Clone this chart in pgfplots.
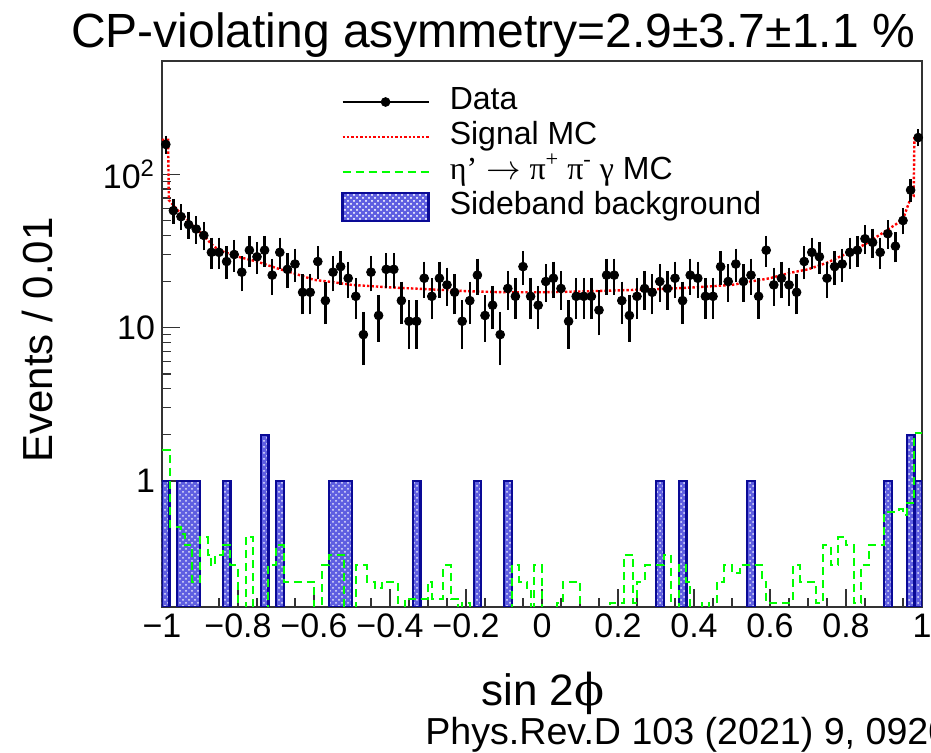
\documentclass[border=0pt]{standalone}
\usepackage{pgfplots}
\usepackage{pgfplotstable}
\pgfplotsset{compat=1.18}
\usepackage{fontspec}
\setmainfont{Liberation Sans}
\newfontfamily\grk{Liberation Serif}
\newfontfamily\phifont{DejaVu Serif}
\usetikzlibrary{patterns}

\definecolor{sbfill}{RGB}{95,95,225}
\definecolor{sbline}{RGB}{10,10,150}

% data: bin centre, events per bin
\pgfplotstableread{
x y
-0.99 157
-0.97 58
-0.95 53
-0.93 47
-0.91 44
-0.89 40
-0.87 31
-0.85 31
-0.83 27
-0.81 30
-0.79 23
-0.77 32
-0.75 29
-0.73 32
-0.71 22
-0.69 31
-0.67 24
-0.65 26
-0.63 17
-0.61 17
-0.59 27
-0.57 15
-0.55 23
-0.53 25
-0.51 21
-0.49 16
-0.47 9
-0.45 23
-0.43 12
-0.41 24
-0.39 24
-0.37 15
-0.35 11
-0.33 11
-0.31 21
-0.29 16
-0.27 21
-0.25 19
-0.23 17
-0.21 11
-0.19 15
-0.17 22
-0.15 12
-0.13 14
-0.11 9
-0.09 18
-0.07 16
-0.05 25
-0.03 16
-0.01 14
0.01 20
0.03 21
0.05 18
0.07 11
0.09 16
0.11 16
0.13 16
0.15 13
0.17 22
0.19 22
0.21 15
0.23 12
0.25 16
0.27 18
0.29 17
0.31 20
0.33 18
0.35 21
0.37 15
0.39 22
0.41 21
0.43 16
0.45 16
0.47 25
0.49 20
0.51 26
0.53 20
0.55 22
0.57 16
0.59 32
0.61 19
0.63 21
0.65 19
0.67 17
0.69 27
0.71 31
0.73 29
0.75 21
0.77 25
0.79 26
0.81 31
0.83 32
0.85 38
0.87 36
0.89 31
0.91 41
0.93 34
0.95 50
0.97 79
0.99 174
}\datatable

\pgfplotsset{sideband/.style={ybar, bar shift=0pt, draw=sbline, line width=1.1pt, fill=sbfill,
  postaction={pattern=crosshatch dots, pattern color=white!85!sbfill}}}

\begin{document}
\begin{tikzpicture}
\useasboundingbox (0,0) rectangle (465.5pt,376.5pt);
\begin{axis}[
  at={(81pt,73pt)}, anchor=south west,
  scale only axis, width=380pt, height=273pt,
  xmin=-1, xmax=1,
  ymode=log, ymin=0.15, ymax=550,
  log origin y=infty,
  axis line style={line width=1pt, black!80},
  tick style={line width=0.8pt, black!80},
  major tick length=9pt, minor tick length=4.5pt,
  tick pos=left, tick align=inside,
  xtick={-1,-0.8,-0.6,-0.4,-0.2,0,0.2,0.4,0.6,0.8,1},
  xticklabels={−1,−0.8,−0.6,−0.4,−0.2,0,0.2,0.4,0.6,0.8,1},
  minor x tick num=3,
  ytick={1,10,100},
  yticklabels={1,10,10\textsuperscript{2}},
  xticklabel style={font=\fontsize{17}{19}\selectfont},
  yticklabel style={font=\fontsize{17}{19}\selectfont},
  xlabel={sin 2{\phifont ϕ}},
  xlabel style={at={(axis description cs:0.501,-0.1575)}, anchor=center, font=\fontsize{22}{24}\selectfont},
  ylabel={Events / 0.01},
  ylabel style={at={(axis description cs:-0.164,0.489)}, anchor=center, font=\fontsize{21}{23}\selectfont},
  reverse legend,
  legend style={draw=none, fill=none, at={(axis description cs:0.2276,0.965)}, anchor=north west,
    font=\fontsize{16}{18}\selectfont, row sep=0pt,
    nodes={inner sep=1pt, text height=11.5pt, text depth=4pt},
    /tikz/every odd column/.append style={column sep=9pt}},
  legend cell align=left,
]

% sideband background: single bins of width 0.02, and two runs of three filled bins
\addplot[sideband, bar width=0.02,
  legend image code/.code={\draw[draw=sbline, line width=1.1pt, fill=sbfill,
    postaction={pattern=crosshatch dots, pattern color=white!85!sbfill}] (0pt,-7pt) rectangle (43pt,7pt);}]
  coordinates {(-0.99,1) (-0.83,1) (-0.73,2) (-0.69,1) (-0.33,1) (-0.17,1) (-0.09,1)
    (0.31,1) (0.37,1) (0.55,1) (0.91,1) (0.99,1) (0.97,2)};
\addlegendentry{Sideband background}
\addplot[sideband, bar width=0.06, forget plot]
  coordinates {(-0.93,1) (-0.53,1)};

% eta' -> pi+ pi- gamma MC (empty bins drawn at 0.01, below the axis)
\addplot[green, line width=1pt, dash pattern=on 4pt off 2.5pt, const plot,
  legend image code/.code={\draw[green, line width=1pt, dash pattern=on 4pt off 2.5pt] (0pt,0pt) -- (43pt,0pt);}]
  coordinates {(-1.00,1.6) (-0.98,0.5) (-0.95,0.45) (-0.94,0.38) (-0.92,0.22) (-0.90,0.43)
    (-0.88,0.33) (-0.87,0.28) (-0.86,0.33) (-0.84,0.38) (-0.82,0.28) (-0.80,0.01)
    (-0.78,0.43) (-0.76,0.01) (-0.72,0.28) (-0.70,0.38) (-0.68,0.22) (-0.60,0.01)
    (-0.58,0.28) (-0.56,0.33) (-0.52,0.01) (-0.49,0.28) (-0.46,0.22) (-0.44,0.20)
    (-0.42,0.22) (-0.38,0.01) (-0.36,0.17) (-0.30,0.22) (-0.29,0.17) (-0.26,0.28)
    (-0.24,0.17) (-0.22,0.01) (-0.21,0.16) (-0.19,0.01) (-0.08,0.28) (-0.06,0.22)
    (-0.04,0.19) (-0.03,0.01) (-0.02,0.28) (0.00,0.01) (0.04,0.16) (0.055,0.22)
    (0.10,0.01) (0.18,0.16) (0.215,0.33) (0.24,0.16) (0.25,0.22) (0.27,0.28)
    (0.32,0.33) (0.34,0.01) (0.36,0.28) (0.38,0.22) (0.39,0.01) (0.42,0.16)
    (0.44,0.01) (0.46,0.22) (0.48,0.28) (0.50,0.25) (0.52,0.28) (0.56,0.28)
    (0.58,0.22) (0.59,0.16) (0.66,0.28) (0.68,0.22) (0.72,0.16) (0.74,0.38)
    (0.76,0.28) (0.78,0.43) (0.80,0.38) (0.82,0.16) (0.84,0.28) (0.86,0.38)
    (0.90,0.63) (0.94,0.65) (0.95,0.60) (0.96,0.72) (0.98,2.05) (1.00,2.05)};
\addlegendentry{{\grk η’} $\rightarrow$ {\grk π\textsuperscript{+} π\textsuperscript{-} γ} MC}

% signal MC
\addplot[red, line width=1.2pt, dash pattern=on 1.2pt off 1pt,
  legend image code/.code={\draw[red, line width=1.2pt, dash pattern=on 1.2pt off 1pt] (0pt,0pt) -- (43pt,0pt);}]
  coordinates {(-1.00,168) (-0.984,168) (-0.982,68) (-0.97,63) (-0.95,55) (-0.93,50)
    (-0.91,44) (-0.89,40) (-0.87,35) (-0.85,32) (-0.80,29) (-0.75,27) (-0.70,24.5)
    (-0.65,22.5) (-0.60,20.5) (-0.55,19.8) (-0.50,19) (-0.40,18.3) (-0.30,17.8)
    (-0.20,17.3) (-0.10,17) (0.00,17) (0.10,17.2) (0.20,17.5) (0.30,17.8) (0.40,18.3)
    (0.50,19) (0.55,20) (0.60,21) (0.65,22.7) (0.70,24) (0.75,26.5) (0.82,32)
    (0.85,35) (0.90,42) (0.93,47) (0.95,51) (0.97,70) (0.978,72) (0.98,172) (1.00,172)};
\addlegendentry{Signal MC}

% data
\addplot[black, only marks, mark=*, mark size=2.2pt,
  error bars/y dir=both, error bars/y explicit,
  error bars/error bar style={line width=1.2pt},
  error bars/error mark options={line width=1.2pt, mark size=1.8pt},
  legend image code/.code={\draw[black, line width=1pt] (0pt,0pt) -- (43pt,0pt); \fill[black] (21.5pt,0pt) circle (2.2pt);}]
  table[x=x, y=y, y error expr=sqrt(\thisrow{y})] {\datatable};
\addlegendentry{Data}
\end{axis}
\node[anchor=base, font=\fontsize{24}{27}\selectfont] at (246.5pt,352.5pt) {CP-violating asymmetry=2.9±3.7±1.1 \%};
\node[anchor=base west, inner sep=0pt, font=\fontsize{18.8}{21}\selectfont] at (212.5pt,4pt) {Phys.Rev.D 103 (2021) 9, 092011};
\end{tikzpicture}
\end{document}
